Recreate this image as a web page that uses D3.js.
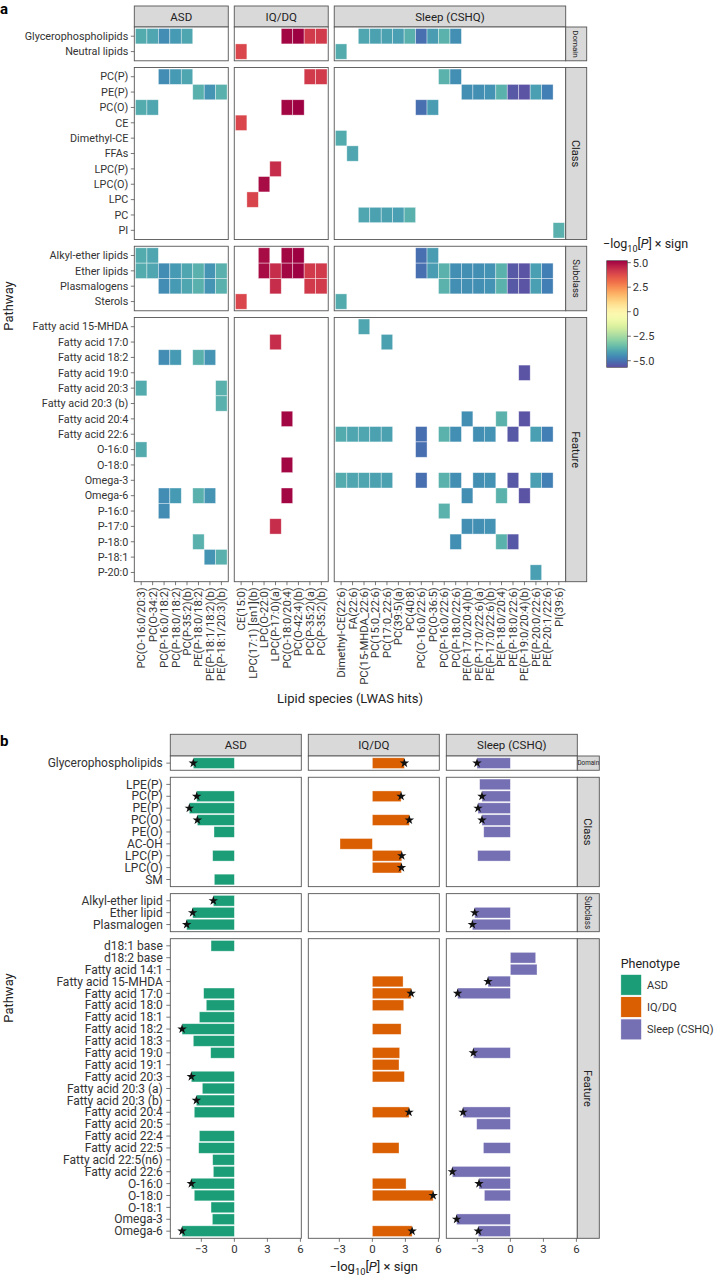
<!DOCTYPE html>
<html><head><meta charset="utf-8">
<script src="https://cdn.jsdelivr.net/npm/d3@7"></script>
<style>body{margin:0;background:#fff} svg{display:block} text{font-family:Roboto,"Noto Sans",sans-serif}</style>
</head><body><svg id="c" width="717" height="1280"></svg>
<script>
// ---------------- DATA: panel a ----------------
const phenotypes = ["ASD", "IQ/DQ", "Sleep (CSHQ)"];
const asdSpecies = ["PC(O-16:0/20:3)","PC(O-34:2)","PC(P-16:0/18:2)","PC(P-18:0/18:2)","PC(P-35:2)(b)","PE(P-18:0/18:2)","PE(P-18:1/18:2)(b)","PE(P-18:1/20:3)(b)"];
const asdValues = [-3.9,-4.0,-4.5,-4.25,-4.0,-3.8,-4.35,-3.8];
const iqSpecies = ["CE(15:0)","LPC(17:1) [sn1](b)","LPC(O-22:0)","LPC(P-17:0)(a)","PC(O-18:0/20:4)","PC(O-42:4)(b)","PC(P-35:2)(a)","PC(P-35:2)(b)"];
const iqValues = [3.9,3.95,5.0,4.4,5.1,5.2,4.15,4.15];
const sleepSpecies = ["Dimethyl-CE(22:6)","FA(22:6)","PC(15-MHDA_22:6)","PC(15:0_22:6)","PC(17:0_22:6)","PC(39:5)(a)","PC(40:8)","PC(O-16:0/22:6)","PC(O-36:5)","PC(P-16:0/22:6)","PC(P-18:0/22:6)","PE(P-17:0/20:4)(b)","PE(P-17:0/22:6)(a)","PE(P-17:0/22:6)(b)","PE(P-18:0/20:4)","PE(P-18:0/22:6)","PE(P-19:0/20:4)(b)","PE(P-20:0/22:6)","PE(P-20:1/22:6)","PI(39:6)"];
const sleepValues = [-3.9,-4.0,-4.0,-4.1,-4.1,-4.15,-3.8,-5.05,-4.2,-3.75,-4.45,-4.45,-4.45,-4.4,-3.75,-5.5,-5.6,-4.15,-4.75,-3.8];

const domainRowsA = ["Glycerophospholipids","Neutral lipids"];
const classRowsA = ["PC(P)","PE(P)","PC(O)","CE","Dimethyl-CE","FFAs","LPC(P)","LPC(O)","LPC","PC","PI"];
const subclassRowsA = ["Alkyl-ether lipids","Ether lipids","Plasmalogens","Sterols"];
const featureRowsA = ["Fatty acid 15-MHDA","Fatty acid 17:0","Fatty acid 18:2","Fatty acid 19:0","Fatty acid 20:3","Fatty acid 20:3 (b)","Fatty acid 20:4","Fatty acid 22:6","O-16:0","O-18:0","Omega-3","Omega-6","P-16:0","P-17:0","P-18:0","P-18:1","P-20:0"];

// membership: pathway -> 1-based species column numbers
const asdHits = [
 ["Glycerophospholipids",[1,2,3,4,5]],["PC(P)",[3,4,5]],["PE(P)",[6,7,8]],["PC(O)",[1,2]],
 ["Alkyl-ether lipids",[1,2]],["Ether lipids",[1,2,3,4,5,6,7,8]],["Plasmalogens",[3,4,5,6,7,8]],
 ["Fatty acid 18:2",[3,4,6,7]],["Fatty acid 20:3",[1,8]],["Fatty acid 20:3 (b)",[8]],["O-16:0",[1]],
 ["Omega-6",[3,4,6,7]],["P-16:0",[3]],["P-18:0",[6]],["P-18:1",[7,8]]
];
const iqHits = [
 ["Glycerophospholipids",[5,6,7,8]],["Neutral lipids",[1]],["PC(P)",[7,8]],["PC(O)",[5,6]],["CE",[1]],
 ["LPC(P)",[4]],["LPC(O)",[3]],["LPC",[2]],["Alkyl-ether lipids",[3,5,6]],["Ether lipids",[3,4,5,6,7,8]],
 ["Plasmalogens",[4,7,8]],["Sterols",[1]],["Fatty acid 17:0",[4]],["Fatty acid 20:4",[5]],["O-18:0",[5]],
 ["Omega-6",[5]],["P-17:0",[4]]
];
const sleepHits = [
 ["Glycerophospholipids",[3,4,5,6,7,8,9,10,11]],["Neutral lipids",[1]],["PC(P)",[10,11]],
 ["PE(P)",[12,13,14,15,16,17,18,19]],["PC(O)",[8,9]],["Dimethyl-CE",[1]],["FFAs",[2]],["PC",[3,4,5,6,7]],["PI",[20]],
 ["Alkyl-ether lipids",[8,9]],["Ether lipids",[8,9,10,11,12,13,14,15,16,17,18,19]],
 ["Plasmalogens",[10,11,12,13,14,15,16,17,18,19]],["Sterols",[1]],
 ["Fatty acid 15-MHDA",[3]],["Fatty acid 17:0",[5]],["Fatty acid 19:0",[17]],["Fatty acid 20:4",[12,15,17]],
 ["Fatty acid 22:6",[1,2,3,4,5,8,10,11,13,14,16,18,19]],["O-16:0",[8]],
 ["Omega-3",[1,2,3,4,5,8,10,11,13,14,16,18,19]],["Omega-6",[12,15,17]],["P-16:0",[10]],
 ["P-17:0",[12,13,14]],["P-18:0",[11,15,16]],["P-20:0",[18]]
];
const colorTicks = [5, 2.5, 0, -2.5, -5];
const colorTickLabels = ["5.0","2.5","0","\u22122.5","\u22125.0"];

// ---------------- DATA: panel b ----------------
const domainRowsB = ["Glycerophospholipids"];
const classRowsB = ["LPE(P)","PC(P)","PE(P)","PC(O)","PE(O)","AC-OH","LPC(P)","LPC(O)","SM"];
const subclassRowsB = ["Alkyl-ether lipid","Ether lipid","Plasmalogen"];
const featureRowsB = ["d18:1 base","d18:2 base","Fatty acid 14:1","Fatty acid 15-MHDA","Fatty acid 17:0","Fatty acid 18:0","Fatty acid 18:1","Fatty acid 18:2","Fatty acid 18:3","Fatty acid 19:0","Fatty acid 19:1","Fatty acid 20:3","Fatty acid 20:3 (a)","Fatty acid 20:3 (b)","Fatty acid 20:4","Fatty acid 20:5","Fatty acid 22:4","Fatty acid 22:5","Fatty acid 22:5(n6)","Fatty acid 22:6","O-16:0","O-18:0","O-18:1","Omega-3","Omega-6"];
// values in order: domain, class, subclass, feature
const asdBars = [-3.73,
 null,-3.42,-4.09,-3.36,-1.85,null,-1.97,null,-1.82,
 -1.91,-3.79,-4.33,
 -2.12,null,null,null,-2.79,-2.55,-3.18,-4.75,-3.73,-2.15,null,-3.91,-2.91,-3.45,-3.64,null,-3.18,-3.24,-1.97,-1.91,-3.91,-3.64,-2.12,-2.0,-4.75];
const iqBars = [2.91,
 null,2.61,null,3.36,null,-2.94,2.67,2.64,null,
 null,null,null,
 null,null,null,2.79,3.52,2.85,null,2.61,null,2.48,2.42,2.91,null,null,3.33,null,null,2.42,null,null,3.06,5.52,null,null,3.61];
const sleepBars = [-3.03,
 -2.79,-2.58,-2.94,-2.58,-2.42,null,-2.97,null,null,
 null,-3.24,-3.45,
 null,2.30,2.42,-2.03,-4.79,null,null,null,null,-3.36,null,null,null,null,-4.30,-3.06,null,-2.45,null,-5.27,-2.85,-2.36,null,-4.88,-2.91];
const asdStars = ["Glycerophospholipids","PC(P)","PE(P)","PC(O)","Alkyl-ether lipid","Ether lipid","Plasmalogen","Fatty acid 18:2","Fatty acid 20:3","Fatty acid 20:3 (b)","O-16:0","Omega-6"];
const iqStars = ["Glycerophospholipids","PC(P)","PC(O)","LPC(P)","LPC(O)","Fatty acid 17:0","Fatty acid 20:4","O-18:0","Omega-6"];
const sleepStars = ["Glycerophospholipids","PC(P)","PE(P)","PC(O)","Ether lipid","Plasmalogen","Fatty acid 15-MHDA","Fatty acid 17:0","Fatty acid 19:0","Fatty acid 20:4","Fatty acid 22:6","O-16:0","Omega-3","Omega-6"];
const phenoColors = ["#1b9e77","#d95f02","#7570b3"];
const xTicksB = [-3, 0, 3, 6];

// ---------------- DRAW ----------------
const svg = d3.select("#c");
const BORDER = "#555", STRIP = "#d9d9d9", TXT = "#222", TICKTXT = "#333";

function subTitle(sel, size){
  sel.append("tspan").text("\u2212log");
  sel.append("tspan").attr("font-size", size*0.72).attr("dy", size*0.3).text("10");
  sel.append("tspan").attr("dy", -size*0.3).text("[");
  sel.append("tspan").attr("font-style","italic").text("P");
  sel.append("tspan").text("] \u00d7 sign");
}

function layoutRows(groups, top, bottom, gap){
  const units = d3.sum(groups, g => g[1].length + 0.2);
  const u = (bottom - top - gap*(groups.length-1)) / units;
  let y = top; const out = [];
  groups.forEach(g => {
    const h = (g[1].length + 0.2) * u;
    const sc = d3.scalePoint().domain(g[1]).range([y, y+h]).padding(0.6);
    out.push({name:g[0], rows:g[1], y0:y, y1:y+h, scale:sc, step:u});
    y += h + gap;
  });
  return out;
}

// ===== Panel a =====
(function(){
  const gA = svg.append("g");
  const speciesA = [asdSpecies, iqSpecies, sleepSpecies];
  const valuesA = [asdValues, iqValues, sleepValues];
  const hitsA = [asdHits, iqHits, sleepHits];
  const left = 134.3, right = 565.7, gapX = 6, stripW = 21;
  const hdrTop = 6, hdrBot = 27;
  const unitsX = d3.sum(speciesA, s => s.length + 0.2);
  const ux = (right - left - gapX*2) / unitsX;
  let x0 = left; const facets = [];
  speciesA.forEach((s,i) => {
    const w = (s.length + 0.2) * ux;
    facets.push({x0, x1:x0+w, scale:d3.scalePoint().domain(s).range([x0,x0+w]).padding(0.6)});
    x0 += w + gapX;
  });
  const groups = layoutRows([["Domain",domainRowsA],["Class",classRowsA],["Subclass",subclassRowsA],["Feature",featureRowsA]], hdrBot, 581.7, 6.7);
  const cMin = -5.67, cMax = 5.2;
  const color = d3.scaleSequential(t => d3.interpolateSpectral(1 - t)).domain([cMin, cMax]);

  facets.forEach((f,i) => {
    gA.append("rect").attr("x",f.x0).attr("y",hdrTop).attr("width",f.x1-f.x0).attr("height",hdrBot-hdrTop)
      .attr("fill",STRIP).attr("stroke",BORDER).attr("stroke-width",0.9);
    gA.append("text").attr("x",(f.x0+f.x1)/2).attr("y",(hdrTop+hdrBot)/2).attr("dy","0.35em")
      .attr("text-anchor","middle").attr("font-size",11.5).attr("fill",TXT).text(phenotypes[i]);
  });
  groups.forEach(g => {
    facets.forEach(f => {
      gA.append("rect").attr("x",f.x0).attr("y",g.y0).attr("width",f.x1-f.x0).attr("height",g.y1-g.y0)
        .attr("fill","#fff").attr("stroke",BORDER).attr("stroke-width",0.9);
    });
    const last = facets[facets.length-1];
    gA.append("rect").attr("x",last.x1).attr("y",g.y0).attr("width",stripW).attr("height",g.y1-g.y0)
      .attr("fill",STRIP).attr("stroke",BORDER).attr("stroke-width",0.9);
    const fs = g.name==="Domain" ? 8 : (g.name==="Subclass" ? 9.5 : 11);
    gA.append("text").attr("transform",`translate(${last.x1+stripW/2},${(g.y0+g.y1)/2}) rotate(90)`)
      .attr("text-anchor","middle").attr("dy","0.35em").attr("font-size",fs).attr("fill",TXT).text(g.name);
    g.rows.forEach(r => {
      const y = g.scale(r);
      gA.append("line").attr("x1",left-3.5).attr("x2",left).attr("y1",y).attr("y2",y).attr("stroke",BORDER).attr("stroke-width",0.8);
      gA.append("text").attr("x",left-6).attr("y",y).attr("dy","0.35em").attr("text-anchor","end")
        .attr("font-size",10.8).attr("fill",TICKTXT).text(r);
    });
  });
  hitsA.forEach((hits, fi) => {
    const f = facets[fi];
    const step = f.scale.step();
    hits.forEach(([path, cols]) => {
      const g = groups.find(gg => gg.rows.includes(path));
      const y = g.scale(path);
      cols.forEach(c => {
        const sp = speciesA[fi][c-1];
        const v = valuesA[fi][c-1];
        gA.append("rect").attr("x",f.scale(sp)-step/2).attr("y",y-g.step/2).attr("width",step).attr("height",g.step)
          .attr("fill",color(v)).attr("stroke","#ffffff").attr("stroke-opacity",0.55).attr("stroke-width",0.7);
      });
    });
  });
  const bottom = groups[groups.length-1].y1;
  facets.forEach((f,fi) => {
    speciesA[fi].forEach(sp => {
      const x = f.scale(sp);
      gA.append("line").attr("x1",x).attr("x2",x).attr("y1",bottom).attr("y2",bottom+3.5).attr("stroke",BORDER).attr("stroke-width",0.8);
      gA.append("text").attr("transform",`translate(${x},${bottom+5.5}) rotate(-90)`).attr("text-anchor","end")
        .attr("dy","0.35em").attr("font-size",11.3).attr("fill",TICKTXT).text(sp);
    });
  });
  gA.append("text").attr("x",(left+right)/2).attr("y",703).attr("text-anchor","middle").attr("font-size",13).attr("fill",TXT).text("Lipid species (LWAS hits)");
  gA.append("text").attr("transform","translate(13,306) rotate(-90)").attr("text-anchor","middle").attr("font-size",13).attr("fill",TXT).text("Pathway");
  gA.append("text").attr("x",0).attr("y",14).attr("font-size",15).attr("font-weight","bold").attr("fill","#000").text("a");

  const lx = 606.7, lw = 20.6, ly0 = 260.7, ly1 = 367.3;
  const ly = d3.scaleLinear().domain([cMax, cMin]).range([ly0, ly1]);
  const grad = svg.append("defs").append("linearGradient").attr("id","gradA").attr("x1",0).attr("x2",0).attr("y1",0).attr("y2",1);
  d3.range(0, 1.0001, 0.05).forEach(t => {
    grad.append("stop").attr("offset",t).attr("stop-color",color(cMax - t*(cMax-cMin)));
  });
  const tt = gA.append("text").attr("x",603).attr("y",248).attr("font-size",12.5).attr("fill",TXT);
  subTitle(tt, 12.5);
  gA.append("rect").attr("x",lx).attr("y",ly0).attr("width",lw).attr("height",ly1-ly0).attr("fill","url(#gradA)")
    .attr("stroke","#444").attr("stroke-width",0.6);
  colorTicks.forEach((v,i) => {
    gA.append("line").attr("x1",lx+lw).attr("x2",lx+lw+3.5).attr("y1",ly(v)).attr("y2",ly(v)).attr("stroke","#444").attr("stroke-width",0.8);
    gA.append("text").attr("x",lx+lw+5.5).attr("y",ly(v)).attr("dy","0.35em").attr("font-size",11).attr("fill",TICKTXT).text(colorTickLabels[i]);
  });
})();

// ===== Panel b =====
(function(){
  const gB = svg.append("g");
  const left = 170.3, right = 577.3, gapX = 7, stripW = 22;
  const hdrTop = 734.3, hdrBot = 756;
  const fw = (right - left - 2*gapX)/3;
  const facets = phenotypes.map((p,i) => {
    const x0 = left + i*(fw+gapX);
    return {x0, x1:x0+fw, scale:d3.scaleLinear().domain([-5.82, 6.08]).range([x0, x0+fw])};
  });
  const groups = layoutRows([["Domain",domainRowsB],["Class",classRowsB],["Subclass",subclassRowsB],["Feature",featureRowsB]], hdrBot, 1238.3, 7);
  const allRows = [].concat(domainRowsB, classRowsB, subclassRowsB, featureRowsB);
  const bars = [asdBars, iqBars, sleepBars];
  const stars = [asdStars, iqStars, sleepStars];

  facets.forEach((f,i) => {
    gB.append("rect").attr("x",f.x0).attr("y",hdrTop).attr("width",fw).attr("height",hdrBot-hdrTop)
      .attr("fill",STRIP).attr("stroke",BORDER).attr("stroke-width",0.9);
    gB.append("text").attr("x",(f.x0+f.x1)/2).attr("y",(hdrTop+hdrBot)/2).attr("dy","0.35em")
      .attr("text-anchor","middle").attr("font-size",11.5).attr("fill",TXT).text(phenotypes[i]);
  });
  groups.forEach(g => {
    facets.forEach(f => {
      gB.append("rect").attr("x",f.x0).attr("y",g.y0).attr("width",fw).attr("height",g.y1-g.y0)
        .attr("fill","#fff").attr("stroke",BORDER).attr("stroke-width",0.9);
    });
    const last = facets[2];
    gB.append("rect").attr("x",last.x1).attr("y",g.y0).attr("width",stripW).attr("height",g.y1-g.y0)
      .attr("fill",STRIP).attr("stroke",BORDER).attr("stroke-width",0.9);
    if (g.name === "Domain") {
      gB.append("text").attr("x",last.x1+stripW/2).attr("y",(g.y0+g.y1)/2).attr("dy","0.35em")
        .attr("text-anchor","middle").attr("font-size",6.3).attr("fill",TXT).text(g.name);
    } else {
      const fs = g.name==="Subclass" ? 8.2 : 11;
      gB.append("text").attr("transform",`translate(${last.x1+stripW/2},${(g.y0+g.y1)/2}) rotate(90)`)
        .attr("text-anchor","middle").attr("dy","0.35em").attr("font-size",fs).attr("fill",TXT).text(g.name);
    }
    g.rows.forEach(r => {
      const y = g.scale(r);
      gB.append("line").attr("x1",left-4).attr("x2",left).attr("y1",y).attr("y2",y).attr("stroke",BORDER).attr("stroke-width",0.8);
      gB.append("text").attr("x",left-7.5).attr("y",y).attr("dy","0.35em").attr("text-anchor","end")
        .attr("font-size",12).attr("fill",TICKTXT).text(r);
    });
  });
  const star = d3.symbol().type(d3.symbolStar).size(28);
  bars.forEach((vals, fi) => {
    const f = facets[fi];
    vals.forEach((v, ri) => {
      if (v === null) return;
      const r = allRows[ri];
      const g = groups.find(gg => gg.rows.includes(r));
      const y = g.scale(r), h = g.step*0.9;
      const xa = f.scale(0), xb = f.scale(v);
      gB.append("rect").attr("x",Math.min(xa,xb)).attr("y",y-h/2).attr("width",Math.abs(xb-xa)).attr("height",h)
        .attr("fill",phenoColors[fi]).attr("stroke","#ffffff").attr("stroke-opacity",0.5).attr("stroke-width",0.7);
      if (stars[fi].includes(r)) {
        gB.append("path").attr("d",star()).attr("transform",`translate(${xb},${y})`).attr("fill","#111");
      }
    });
  });
  const bottom = groups[groups.length-1].y1;
  facets.forEach(f => {
    xTicksB.forEach(t => {
      const x = f.scale(t);
      gB.append("line").attr("x1",x).attr("x2",x).attr("y1",bottom).attr("y2",bottom+3.5).attr("stroke",BORDER).attr("stroke-width",0.8);
      gB.append("text").attr("x",x).attr("y",bottom+14.5).attr("text-anchor","middle").attr("font-size",11.4)
        .attr("fill",TICKTXT).text(t < 0 ? "\u2212" + Math.abs(t) : String(t));
    });
  });
  const at = gB.append("text").attr("x",(left+right)/2).attr("y",1271).attr("text-anchor","middle").attr("font-size",13).attr("fill",TXT);
  subTitle(at, 13);
  gB.append("text").attr("transform","translate(13,998) rotate(-90)").attr("text-anchor","middle").attr("font-size",13).attr("fill",TXT).text("Pathway");
  gB.append("text").attr("x",0).attr("y",746).attr("font-size",15).attr("font-weight","bold").attr("fill","#000").text("b");

  gB.append("text").attr("x",620.7).attr("y",968).attr("font-size",12.5).attr("fill",TXT).text("Phenotype");
  phenotypes.forEach((p,i) => {
    const y = 974.3 + i*22.3;
    gB.append("rect").attr("x",620.7).attr("y",y).attr("width",21).attr("height",21)
      .attr("fill",phenoColors[i]).attr("stroke","#fff").attr("stroke-width",0.8);
    gB.append("text").attr("x",647).attr("y",y+10.5).attr("dy","0.35em").attr("font-size",11).attr("fill",TICKTXT).text(p);
  });
})();
</script></body></html>
